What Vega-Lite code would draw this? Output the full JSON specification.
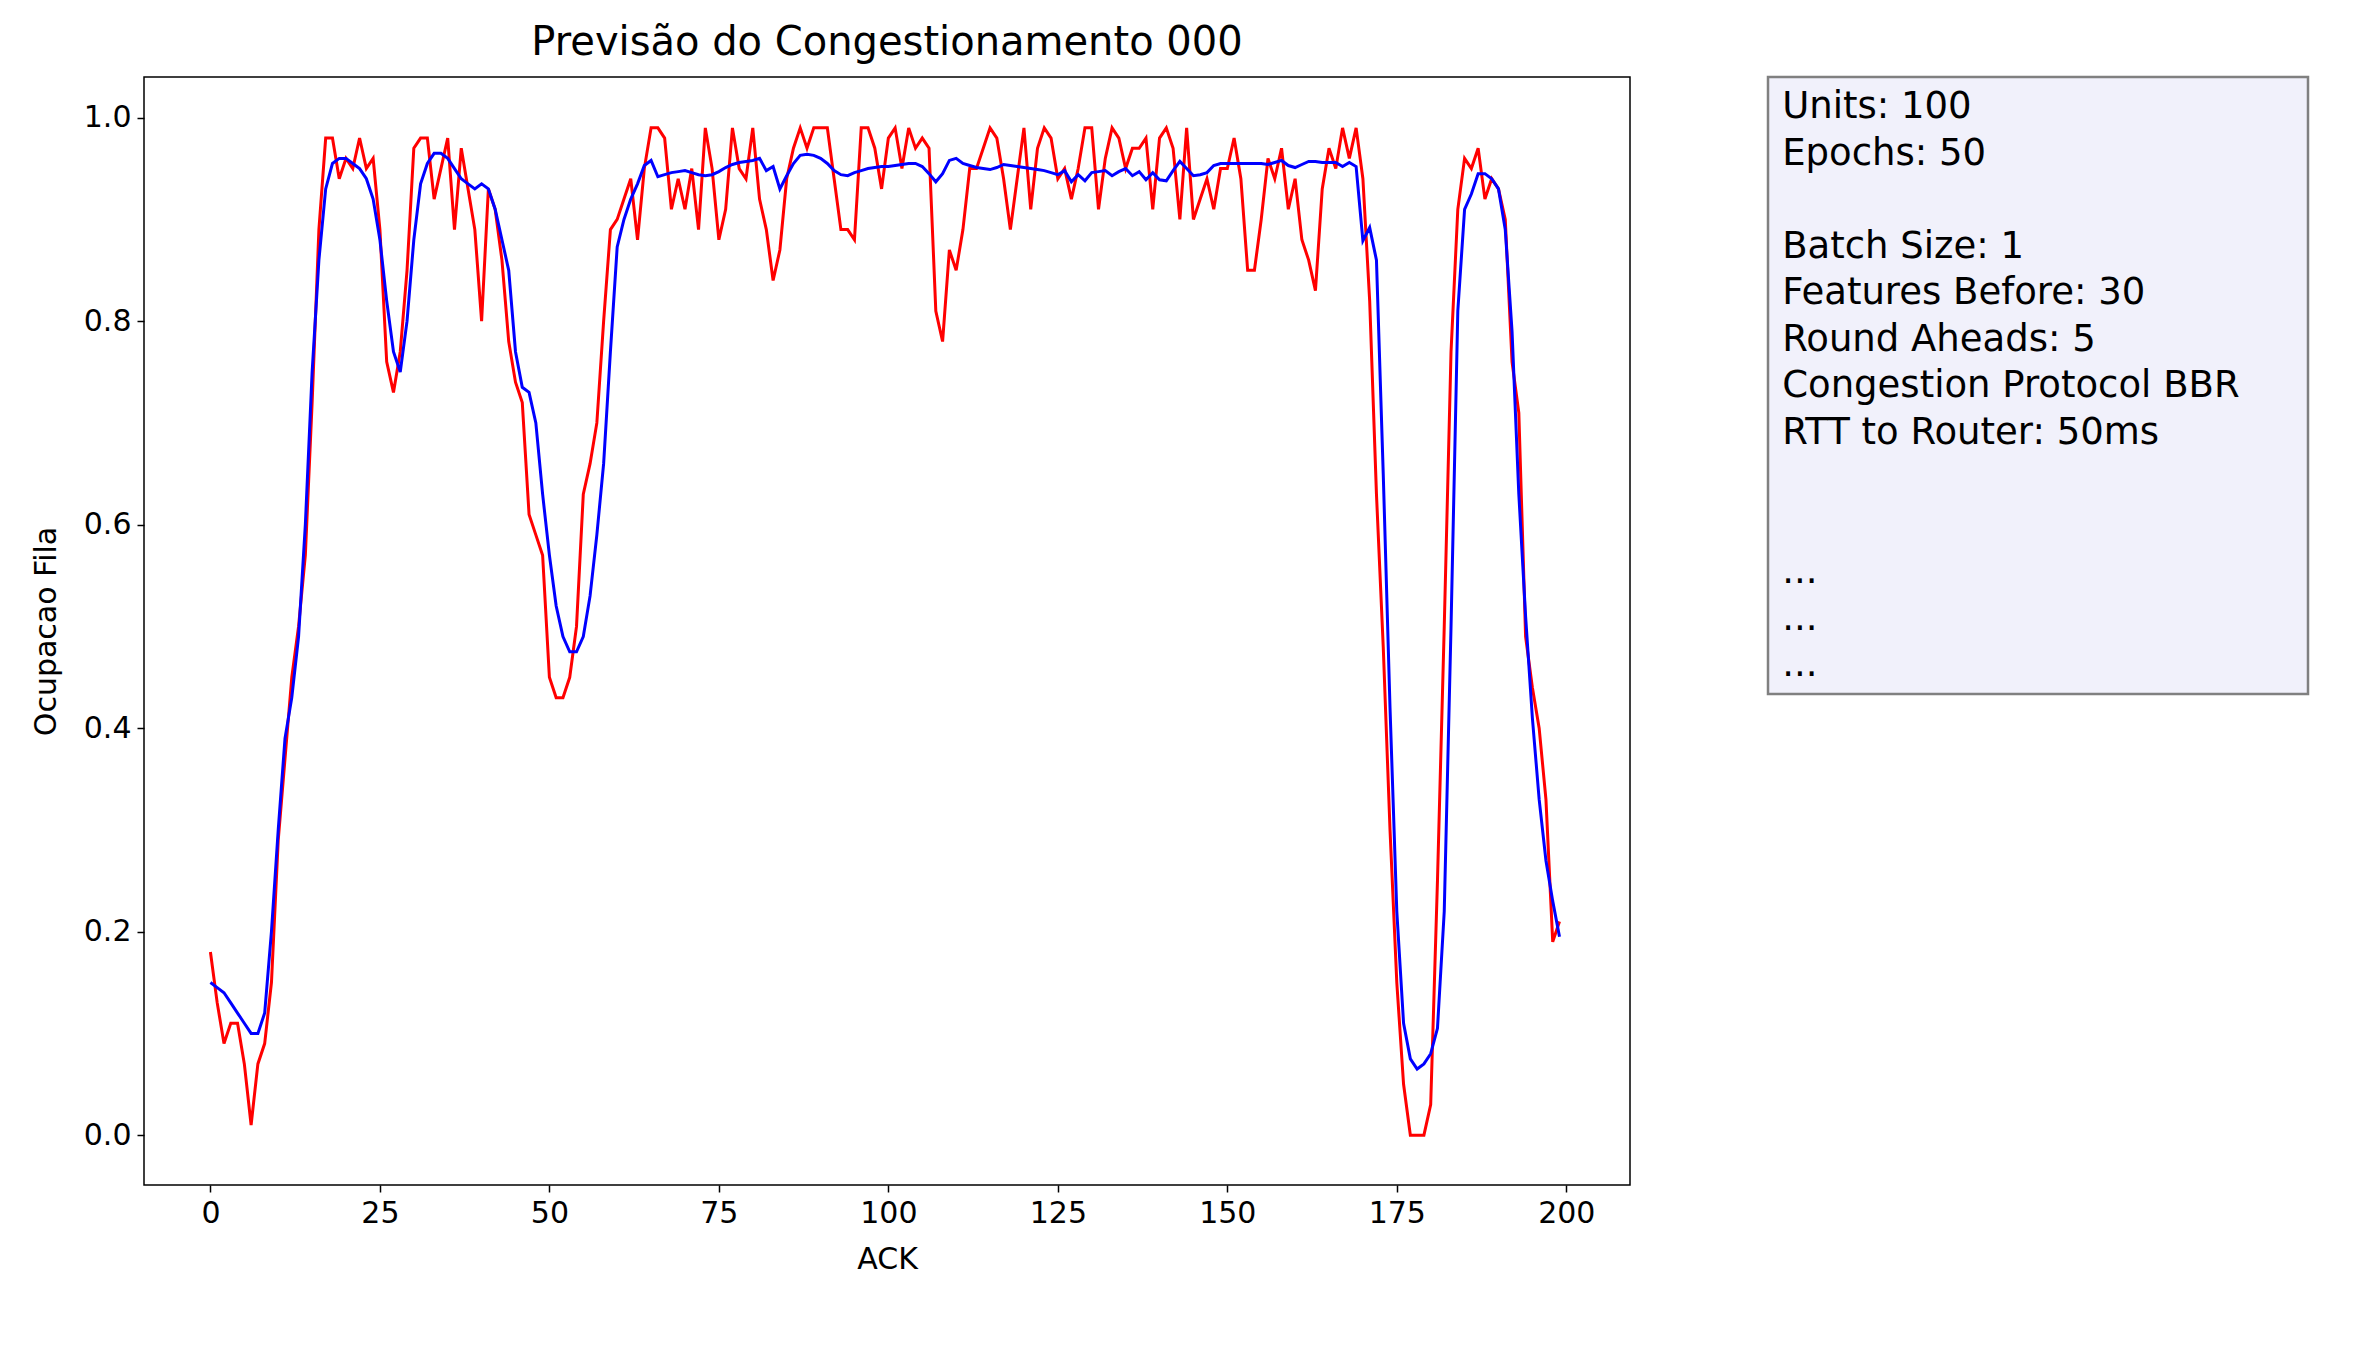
{
  "$schema": "https://vega.github.io/schema/vega-lite/v6.json",
  "background": "white",
  "padding": {"left": 30, "top": 22, "right": 10, "bottom": 10},
  "datasets": {
    "series": [
      {"ack":0,"real":0.18,"pred":0.15},{"ack":1,"real":0.13,"pred":0.145},{"ack":2,"real":0.09,"pred":0.14},{"ack":3,"real":0.11,"pred":0.13},{"ack":4,"real":0.11,"pred":0.12},
      {"ack":5,"real":0.07,"pred":0.11},{"ack":6,"real":0.01,"pred":0.1},{"ack":7,"real":0.07,"pred":0.1},{"ack":8,"real":0.09,"pred":0.12},{"ack":9,"real":0.15,"pred":0.2},
      {"ack":10,"real":0.29,"pred":0.3},{"ack":11,"real":0.37,"pred":0.39},{"ack":12,"real":0.45,"pred":0.43},{"ack":13,"real":0.5,"pred":0.49},{"ack":14,"real":0.57,"pred":0.6},
      {"ack":15,"real":0.72,"pred":0.75},{"ack":16,"real":0.89,"pred":0.86},{"ack":17,"real":0.98,"pred":0.93},{"ack":18,"real":0.98,"pred":0.955},{"ack":19,"real":0.94,"pred":0.96},
      {"ack":20,"real":0.96,"pred":0.96},{"ack":21,"real":0.95,"pred":0.955},{"ack":22,"real":0.98,"pred":0.95},{"ack":23,"real":0.95,"pred":0.94},{"ack":24,"real":0.96,"pred":0.92},
      {"ack":25,"real":0.89,"pred":0.88},{"ack":26,"real":0.76,"pred":0.82},{"ack":27,"real":0.73,"pred":0.77},{"ack":28,"real":0.77,"pred":0.75},{"ack":29,"real":0.85,"pred":0.8},
      {"ack":30,"real":0.97,"pred":0.88},{"ack":31,"real":0.98,"pred":0.935},{"ack":32,"real":0.98,"pred":0.955},{"ack":33,"real":0.92,"pred":0.965},{"ack":34,"real":0.95,"pred":0.965},
      {"ack":35,"real":0.98,"pred":0.96},{"ack":36,"real":0.89,"pred":0.95},{"ack":37,"real":0.97,"pred":0.94},{"ack":38,"real":0.93,"pred":0.935},{"ack":39,"real":0.89,"pred":0.93},
      {"ack":40,"real":0.8,"pred":0.935},{"ack":41,"real":0.93,"pred":0.93},{"ack":42,"real":0.91,"pred":0.91},{"ack":43,"real":0.86,"pred":0.88},{"ack":44,"real":0.78,"pred":0.85},
      {"ack":45,"real":0.74,"pred":0.77},{"ack":46,"real":0.72,"pred":0.735},{"ack":47,"real":0.61,"pred":0.73},{"ack":48,"real":0.59,"pred":0.7},{"ack":49,"real":0.57,"pred":0.63},
      {"ack":50,"real":0.45,"pred":0.57},{"ack":51,"real":0.43,"pred":0.52},{"ack":52,"real":0.43,"pred":0.49},{"ack":53,"real":0.45,"pred":0.475},{"ack":54,"real":0.5,"pred":0.475},
      {"ack":55,"real":0.63,"pred":0.49},{"ack":56,"real":0.66,"pred":0.53},{"ack":57,"real":0.7,"pred":0.59},{"ack":58,"real":0.8,"pred":0.66},{"ack":59,"real":0.89,"pred":0.77},
      {"ack":60,"real":0.9,"pred":0.873},{"ack":61,"real":0.92,"pred":0.9},{"ack":62,"real":0.94,"pred":0.92},{"ack":63,"real":0.88,"pred":0.935},{"ack":64,"real":0.95,"pred":0.953},
      {"ack":65,"real":0.99,"pred":0.958},{"ack":66,"real":0.99,"pred":0.942},{"ack":67,"real":0.98,"pred":0.944},{"ack":68,"real":0.91,"pred":0.946},{"ack":69,"real":0.94,"pred":0.947},
      {"ack":70,"real":0.91,"pred":0.948},{"ack":71,"real":0.95,"pred":0.946},{"ack":72,"real":0.89,"pred":0.944},{"ack":73,"real":0.99,"pred":0.943},{"ack":74,"real":0.95,"pred":0.944},
      {"ack":75,"real":0.88,"pred":0.947},{"ack":76,"real":0.91,"pred":0.951},{"ack":77,"real":0.99,"pred":0.954},{"ack":78,"real":0.95,"pred":0.956},{"ack":79,"real":0.94,"pred":0.957},
      {"ack":80,"real":0.99,"pred":0.958},{"ack":81,"real":0.92,"pred":0.96},{"ack":82,"real":0.89,"pred":0.948},{"ack":83,"real":0.84,"pred":0.952},{"ack":84,"real":0.87,"pred":0.93},
      {"ack":85,"real":0.94,"pred":0.943},{"ack":86,"real":0.97,"pred":0.955},{"ack":87,"real":0.99,"pred":0.963},{"ack":88,"real":0.97,"pred":0.964},{"ack":89,"real":0.99,"pred":0.963},
      {"ack":90,"real":0.99,"pred":0.96},{"ack":91,"real":0.99,"pred":0.955},{"ack":92,"real":0.94,"pred":0.948},{"ack":93,"real":0.89,"pred":0.944},{"ack":94,"real":0.89,"pred":0.943},
      {"ack":95,"real":0.88,"pred":0.946},{"ack":96,"real":0.99,"pred":0.948},{"ack":97,"real":0.99,"pred":0.95},{"ack":98,"real":0.97,"pred":0.951},{"ack":99,"real":0.93,"pred":0.952},
      {"ack":100,"real":0.98,"pred":0.952},{"ack":101,"real":0.99,"pred":0.953},{"ack":102,"real":0.95,"pred":0.954},{"ack":103,"real":0.99,"pred":0.955},{"ack":104,"real":0.97,"pred":0.955},
      {"ack":105,"real":0.98,"pred":0.952},{"ack":106,"real":0.97,"pred":0.945},{"ack":107,"real":0.81,"pred":0.937},{"ack":108,"real":0.78,"pred":0.945},{"ack":109,"real":0.87,"pred":0.958},
      {"ack":110,"real":0.85,"pred":0.96},{"ack":111,"real":0.89,"pred":0.955},{"ack":112,"real":0.95,"pred":0.953},{"ack":113,"real":0.95,"pred":0.951},{"ack":114,"real":0.97,"pred":0.95},
      {"ack":115,"real":0.99,"pred":0.949},{"ack":116,"real":0.98,"pred":0.951},{"ack":117,"real":0.94,"pred":0.954},{"ack":118,"real":0.89,"pred":0.953},{"ack":119,"real":0.94,"pred":0.952},
      {"ack":120,"real":0.99,"pred":0.951},{"ack":121,"real":0.91,"pred":0.95},{"ack":122,"real":0.97,"pred":0.949},{"ack":123,"real":0.99,"pred":0.948},{"ack":124,"real":0.98,"pred":0.946},
      {"ack":125,"real":0.94,"pred":0.944},{"ack":126,"real":0.95,"pred":0.948},{"ack":127,"real":0.92,"pred":0.937},{"ack":128,"real":0.95,"pred":0.944},{"ack":129,"real":0.99,"pred":0.938},
      {"ack":130,"real":0.99,"pred":0.946},{"ack":131,"real":0.91,"pred":0.947},{"ack":132,"real":0.96,"pred":0.948},{"ack":133,"real":0.99,"pred":0.943},{"ack":134,"real":0.98,"pred":0.947},
      {"ack":135,"real":0.95,"pred":0.95},{"ack":136,"real":0.97,"pred":0.943},{"ack":137,"real":0.97,"pred":0.947},{"ack":138,"real":0.98,"pred":0.939},{"ack":139,"real":0.91,"pred":0.946},
      {"ack":140,"real":0.98,"pred":0.939},{"ack":141,"real":0.99,"pred":0.938},{"ack":142,"real":0.97,"pred":0.948},{"ack":143,"real":0.9,"pred":0.957},{"ack":144,"real":0.99,"pred":0.95},
      {"ack":145,"real":0.9,"pred":0.943},{"ack":146,"real":0.92,"pred":0.944},{"ack":147,"real":0.94,"pred":0.946},{"ack":148,"real":0.91,"pred":0.953},{"ack":149,"real":0.95,"pred":0.955},
      {"ack":150,"real":0.95,"pred":0.955},{"ack":151,"real":0.98,"pred":0.955},{"ack":152,"real":0.94,"pred":0.955},{"ack":153,"real":0.85,"pred":0.955},{"ack":154,"real":0.85,"pred":0.955},
      {"ack":155,"real":0.9,"pred":0.955},{"ack":156,"real":0.96,"pred":0.954},{"ack":157,"real":0.94,"pred":0.956},{"ack":158,"real":0.97,"pred":0.958},{"ack":159,"real":0.91,"pred":0.953},
      {"ack":160,"real":0.94,"pred":0.951},{"ack":161,"real":0.88,"pred":0.954},{"ack":162,"real":0.86,"pred":0.957},{"ack":163,"real":0.83,"pred":0.957},{"ack":164,"real":0.93,"pred":0.956},
      {"ack":165,"real":0.97,"pred":0.956},{"ack":166,"real":0.95,"pred":0.956},{"ack":167,"real":0.99,"pred":0.952},{"ack":168,"real":0.96,"pred":0.956},{"ack":169,"real":0.99,"pred":0.952},
      {"ack":170,"real":0.94,"pred":0.879},{"ack":171,"real":0.82,"pred":0.892},{"ack":172,"real":0.63,"pred":0.86},{"ack":173,"real":0.48,"pred":0.65},{"ack":174,"real":0.3,"pred":0.42},
      {"ack":175,"real":0.15,"pred":0.22},{"ack":176,"real":0.05,"pred":0.11},{"ack":177,"real":0.0,"pred":0.075},{"ack":178,"real":0.0,"pred":0.065},{"ack":179,"real":0.0,"pred":0.07},
      {"ack":180,"real":0.03,"pred":0.08},{"ack":181,"real":0.25,"pred":0.105},{"ack":182,"real":0.5,"pred":0.22},{"ack":183,"real":0.77,"pred":0.5},{"ack":184,"real":0.91,"pred":0.81},
      {"ack":185,"real":0.96,"pred":0.91},{"ack":186,"real":0.95,"pred":0.925},{"ack":187,"real":0.97,"pred":0.945},{"ack":188,"real":0.92,"pred":0.945},{"ack":189,"real":0.94,"pred":0.94},
      {"ack":190,"real":0.93,"pred":0.93},{"ack":191,"real":0.9,"pred":0.89},{"ack":192,"real":0.76,"pred":0.79},{"ack":193,"real":0.71,"pred":0.63},{"ack":194,"real":0.49,"pred":0.51},
      {"ack":195,"real":0.44,"pred":0.41},{"ack":196,"real":0.4,"pred":0.33},{"ack":197,"real":0.33,"pred":0.27},{"ack":198,"real":0.19,"pred":0.23},{"ack":199,"real":0.21,"pred":0.195}
    ],
    "box": [
      {"line": 0, "text": "Units: 100"},
      {"line": 1, "text": "Epochs: 50"},
      {"line": 3, "text": "Batch Size: 1"},
      {"line": 4, "text": "Features Before: 30"},
      {"line": 5, "text": "Round Aheads: 5"},
      {"line": 6, "text": "Congestion Protocol BBR"},
      {"line": 7, "text": "RTT to Router: 50ms"},
      {"line": 10, "text": "..."},
      {"line": 11, "text": "..."},
      {"line": 12, "text": "..."}
    ]
  },
  "hconcat": [
    {
      "title": {"text": "Previsão do Congestionamento 000", "fontSize": 40, "fontWeight": "normal", "font": "DejaVu Sans", "color": "black", "offset": 14},
      "width": 1486,
      "height": 1108,
      "view": {"stroke": "black", "strokeWidth": 1.5},
      "data": {"name": "series"},
      "encoding": {
        "x": {
          "field": "ack", "type": "quantitative", "title": "ACK",
          "scale": {"domain": [-9.8, 209.4], "nice": false, "zero": false},
          "axis": {"values": [0, 25, 50, 75, 100, 125, 150, 175, 200]}
        }
      },
      "layer": [
        {
          "mark": {"type": "line", "color": "#ff0000", "strokeWidth": 3},
          "encoding": {
            "y": {
              "field": "real", "type": "quantitative", "title": "Ocupacao Fila",
              "scale": {"domain": [-0.049, 1.04], "nice": false, "zero": false},
              "axis": {"values": [0, 0.2, 0.4, 0.6, 0.8, 1.0], "format": ".1f"}
            }
          }
        },
        {
          "mark": {"type": "line", "color": "#0000ff", "strokeWidth": 3},
          "encoding": {"y": {"field": "pred", "type": "quantitative"}}
        }
      ]
    },
    {
      "title": {"text": "x", "fontSize": 40, "color": "rgba(0,0,0,0)", "offset": 2},
      "width": 540,
      "height": 617,
      "view": {"fill": "#f1f1fb", "stroke": "#808080", "strokeWidth": 2.5},
      "data": {"name": "box"},
      "mark": {"type": "text", "align": "left", "baseline": "middle", "fontSize": 37, "font": "DejaVu Sans", "color": "black"},
      "encoding": {
        "x": {"datum": 0, "type": "quantitative", "scale": {"domain": [-0.027, 1]}, "axis": null},
        "y": {"field": "line", "type": "quantitative", "scale": {"domain": [0, 12], "range": [30, 588]}, "axis": null},
        "text": {"field": "text"}
      }
    }
  ],
  "spacing": 135,
  "config": {
    "font": "DejaVu Sans",
    "axis": {
      "grid": false,
      "domain": false,
      "tickColor": "black",
      "tickSize": 7,
      "tickWidth": 1.5,
      "labelFontSize": 30,
      "labelColor": "black",
      "labelFont": "DejaVu Sans",
      "labelPadding": 6,
      "titleFontSize": 30,
      "titleFont": "DejaVu Sans",
      "titleFontWeight": "normal",
      "titleColor": "black"
    },
    "axisX": {"titlePadding": 16},
    "axisY": {"titlePadding": 22}
  }
}
